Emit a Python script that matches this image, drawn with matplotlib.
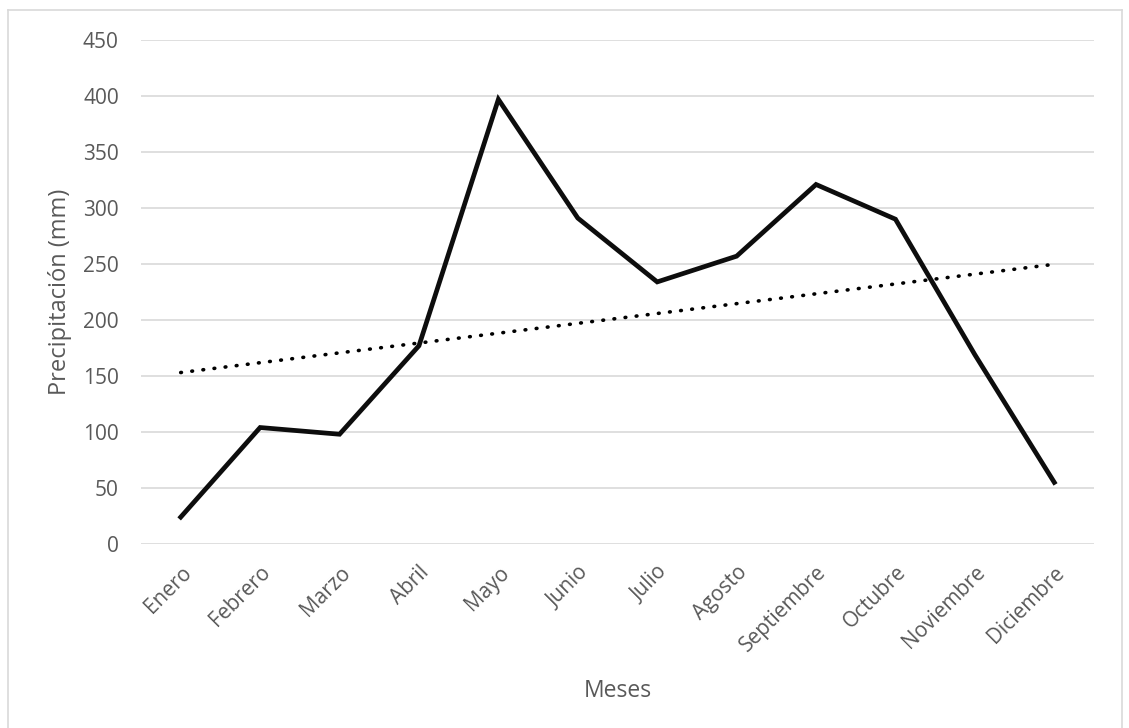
import matplotlib
matplotlib.use("Agg")
import matplotlib.pyplot as plt
import numpy as np

meses = ["Enero", "Febrero", "Marzo", "Abril", "Mayo", "Junio", "Julio",
         "Agosto", "Septiembre", "Octubre", "Noviembre", "Diciembre"]
precipitacion = [24, 104, 98, 177, 397, 291, 234, 257, 321, 290, 169, 55]
yticks = [0, 50, 100, 150, 200, 250, 300, 350, 400, 450]

plt.rcParams['font.family'] = ['Open Sans', 'DejaVu Sans']
gris = '#595959'

fig = plt.figure(figsize=(11.29, 7.28), dpi=100)
ax = fig.add_axes([141/1129, 1-544/728, (1094-141)/1129, (544-40)/728])

x = np.arange(len(meses))
ax.plot(x, precipitacion, color='#0d0d0d', lw=3.4, solid_joinstyle='miter', zorder=3)

# linea de tendencia (regresion lineal)
m, b = np.polyfit(x, precipitacion, 1)
ax.plot(x, m*x + b, color='black', lw=2.6, linestyle=(0, (0.2, 2.9)),
        dash_capstyle='round', zorder=4)

ax.set_xlim(-0.5, len(meses)-0.5)
ax.set_ylim(0, 450)
ax.set_yticks(yticks)
ax.yaxis.grid(True, color='#d9d9d9', lw=1.2)
ax.set_axisbelow(True)
for s in ax.spines.values():
    s.set_visible(False)
ax.tick_params(length=0, colors=gris)
ax.tick_params(axis='y', labelsize=15, pad=16)
ax.tick_params(axis='x', labelsize=15, pad=13)
ax.set_xticks(x)
ax.set_xticklabels(meses, rotation=45, ha='right', rotation_mode='anchor')
ax.set_ylabel("Precipitación (mm)", fontsize=17, color=gris, labelpad=8)
ax.set_xlabel("Meses", fontsize=16.5, color=gris, labelpad=16)

# borde del grafico
fig.add_artist(plt.Line2D([8/1129, 8/1129], [0, 1-10/728], color='#d9d9d9', lw=1.2))
fig.add_artist(plt.Line2D([1122/1129, 1122/1129], [0, 1-10/728], color='#d9d9d9', lw=1.2))
fig.add_artist(plt.Line2D([8/1129, 1122/1129], [1-10/728, 1-10/728], color='#d9d9d9', lw=1.2))

fig.savefig("out.png", dpi=100)
